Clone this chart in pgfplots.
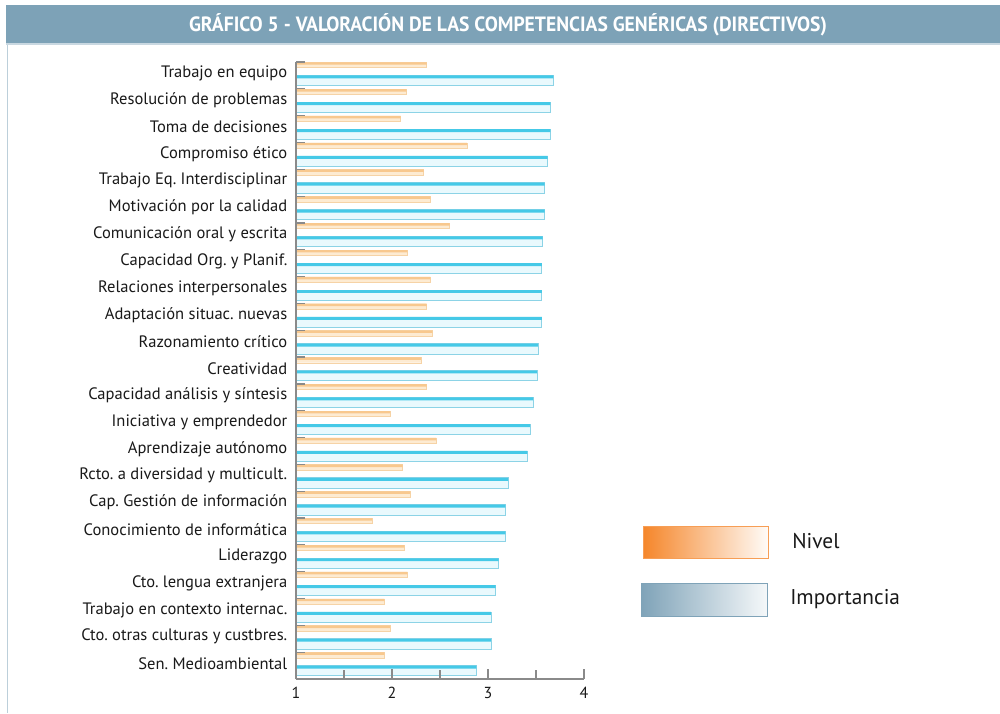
\documentclass[border=0pt]{standalone}
\usepackage{graphicx}
\usepackage{fontspec}
\setmainfont{PT Sans}
\usepackage{pgfplots}
\pgfplotsset{compat=1.18}
\usepackage{pgfplotstable}

\definecolor{titlebar}{HTML}{7DA2B7}
\definecolor{titleline}{HTML}{C9D8E1}
\definecolor{framecol}{HTML}{BCCFDA}
\definecolor{axisgray}{HTML}{8A8A8A}
\definecolor{orgtop}{HTML}{F8C88E}
\definecolor{orgbot}{HTML}{FDEBD2}
\definecolor{orgedge}{HTML}{F6D3A6}
\definecolor{cyantop}{HTML}{45C9E7}
\definecolor{cyanfill}{HTML}{E9F9FD}
\definecolor{cyanedge}{HTML}{8CD3E6}
\definecolor{legorange}{HTML}{F5862A}
\definecolor{legblue}{HTML}{7FA3B8}

\pgfplotstableread{
y nivel imp
22 2.36 3.68
21 2.15 3.65
20 2.09 3.65
19 2.78 3.62
18 2.33 3.59
17 2.40 3.59
16 2.60 3.57
15 2.16 3.56
14 2.40 3.56
13 2.36 3.56
12 2.42 3.52
11 2.30 3.51
10 2.36 3.47
9 1.98 3.44
8 2.46 3.41
7 2.11 3.21
6 2.19 3.18
5 1.79 3.18
4 2.13 3.11
3 2.16 3.08
2 1.92 3.03
1 1.98 3.03
0 1.92 2.88
}\datatable

\begin{document}
\frenchspacing
\begin{tikzpicture}
\fill[white] (0pt,0pt) rectangle (750pt,-534.75pt);
\fill[titlebar] (4.5pt,-3.75pt) rectangle (750pt,-32.25pt);
\fill[titleline] (4.5pt,-32.25pt) rectangle (750pt,-33.75pt);
\draw[framecol, line width=0.75pt] (5.25pt,-33.75pt) -- (5.25pt,-534.75pt);
\node[text=white, inner sep=0pt] at (381pt,-18.75pt)
  {\resizebox{478.5pt}{\height}{\fontsize{15.5pt}{15.5pt}\selectfont\bfseries GRÁFICO 5 - VALORACIÓN DE LAS COMPETENCIAS GENÉRICAS (DIRECTIVOS)}};

\begin{axis}[
  at={(222pt,-509.25pt)}, anchor=south west,
  scale only axis, width=216pt, height=462.75pt,
  xmin=1, xmax=4, ymin=-0.5, ymax=22.5,
  axis x line*=bottom, axis y line*=left,
  axis line style={draw=axisgray, line width=1.1pt},
  axis on top,
  xtick={1,2,3,4}, minor xtick={1.5,2.5,3.5},
  ytick={0,...,22},
  yticklabels={Sen. Medioambiental,Cto. otras culturas y custbres.,Trabajo en contexto internac.,Cto. lengua extranjera,Liderazgo,Conocimiento de informática,Cap. Gestión de información,Rcto. a diversidad y multicult.,Aprendizaje autónomo,Iniciativa y emprendedor,Capacidad análisis y síntesis,Creatividad,Razonamiento crítico,Adaptación situac. nuevas,Relaciones interpersonales,Capacidad Org. y Planif.,Comunicación oral y escrita,Motivación por la calidad,Trabajo Eq. Interdisciplinar,Compromiso ético,Toma de decisiones,Resolución de problemas,Trabajo en equipo},
  minor ytick={-0.5,0.5,...,22.5},
  tick align=inside,
  major tick length=7.5pt, minor tick length=6.5pt,
  tick style={draw=axisgray, line width=0.9pt},
  every major y tick/.append style={draw=none},
  yticklabel style={font=\fontsize{12.4pt}{13pt}\selectfont, text=black!90, xshift=-3pt, yshift=1.5pt},
  xticklabel style={font=\fontsize{12pt}{13pt}\selectfont, text=black!90, yshift=-2.5pt},
  /pgf/number format/assume math mode=true,
]
% Nivel: pale body with a warmer top stripe
\addplot[xbar, bar width=0.2, bar shift=0pt, draw=orgedge, line width=0.3pt, fill=orgbot]
  table[x=nivel, y expr=\thisrow{y}+0.39] {\datatable};
\addplot[xbar, bar width=0.09, bar shift=0pt, draw=none, fill=orgtop]
  table[x=nivel, y expr=\thisrow{y}+0.445] {\datatable};
% Importancia: light body with a strong cyan top stripe
\addplot[xbar, bar width=0.38, bar shift=0pt, draw=cyanedge, line width=0.5pt, fill=cyanfill]
  table[x=imp, y expr=\thisrow{y}-0.19] {\datatable};
\addplot[xbar, bar width=0.11, bar shift=0pt, draw=none, fill=cyantop]
  table[x=imp, y expr=\thisrow{y}-0.055] {\datatable};
\end{axis}

\shade[left color=legorange, right color=orange!3!white, draw=legorange!80] (482.25pt,-394.5pt) rectangle (576pt,-418.5pt);
\shade[left color=legblue, right color=legblue!8!white, draw=legblue] (480.75pt,-437.25pt) rectangle (575.25pt,-462pt);
\node[anchor=west, inner sep=0pt, text=black!90, font=\fontsize{16pt}{18pt}\selectfont] at (594pt,-405.75pt) {Nivel};
\node[anchor=west, inner sep=0pt, text=black!90, font=\fontsize{16pt}{18pt}\selectfont] at (592.5pt,-449.25pt) {Importancia};
\end{tikzpicture}
\end{document}
